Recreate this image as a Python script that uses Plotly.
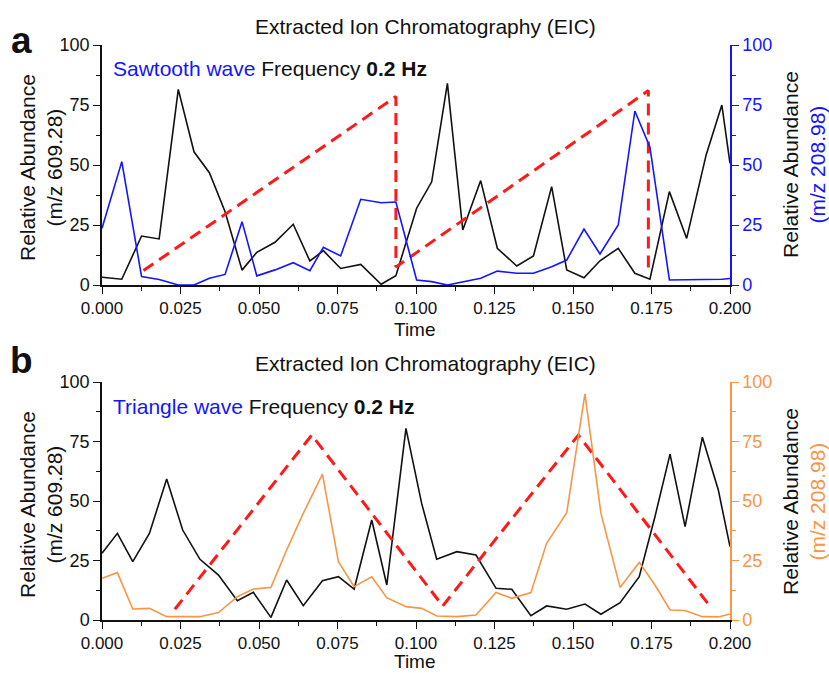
import plotly.graph_objects as go

# ---------------- data ----------------
time_a = [0, 0.0063, 0.0126, 0.0182, 0.0243, 0.0293, 0.0342, 0.0392, 0.0446, 0.0493,
          0.0551, 0.0609, 0.0662, 0.0705, 0.0760, 0.0824, 0.0889, 0.0936, 0.1002, 0.1050,
          0.1100, 0.1149, 0.1206, 0.1259, 0.1321, 0.1374, 0.1432, 0.1480, 0.1535, 0.1586,
          0.1644, 0.1697, 0.1745, 0.1807, 0.1862, 0.1924, 0.1974, 0.2000]
mz609_a = [3.2, 2.4, 20.4, 19.2, 81.5, 55.5, 46.8, 30.5, 6.2, 13.6,
           17.8, 25.3, 10.0, 14.3, 6.9, 8.6, 0.3, 3.9, 32.0, 43.0,
           84.0, 22.9, 43.5, 15.3, 7.9, 12.1, 41.0, 6.3, 3.0, 10.1,
           15.3, 4.9, 2.4, 38.9, 19.4, 54.2, 75.0, 50.7]
mz209_a = [23.6, 51.4, 3.5, 2.3, 0.0, 0.0, 2.8, 4.4, 26.4, 3.8,
           6.3, 9.3, 6.0, 15.7, 12.1, 35.7, 34.3, 34.6, 2.1, 1.4,
           0.0, 1.4, 2.8, 5.8, 4.9, 4.9, 7.6, 10.4, 23.3, 12.9,
           25.0, 72.5, 57.4, 2.1, 2.1, 2.4, 2.4, 2.7]
saw_t = [0.0132, 0.0936, 0.0936, 0.1740, 0.1740]
saw_v = [6.0, 78.5, 7.5, 81.0, 6.0]

time_b = [0, 0.0049, 0.0098, 0.0151, 0.0206, 0.0257, 0.0312, 0.0371, 0.0431, 0.0482,
          0.0538, 0.0588, 0.0641, 0.0702, 0.0753, 0.0803, 0.0859, 0.0907, 0.0968, 0.1018,
          0.1066, 0.1130, 0.1191, 0.1255, 0.1305, 0.1366, 0.1416, 0.1480, 0.1538, 0.1589,
          0.1650, 0.1711, 0.1761, 0.1809, 0.1857, 0.1912, 0.1963, 0.2000]
mz609_b = [28.0, 36.4, 24.5, 36.4, 59.2, 37.8, 25.5, 18.9, 8.1, 11.6,
           1.1, 16.8, 6.0, 16.5, 18.2, 13.0, 42.0, 14.7, 80.5, 49.0,
           25.5, 28.7, 27.3, 13.3, 12.9, 1.8, 5.9, 4.5, 6.7, 2.4,
           7.3, 18.2, 43.4, 69.7, 39.2, 76.8, 54.5, 30.8]
mz209_b = [17.5, 19.9, 4.6, 4.9, 1.4, 1.5, 1.4, 3.1, 9.8, 13.0,
           13.7, 29.4, 44.8, 61.3, 24.5, 14.0, 18.2, 9.4, 5.6, 4.9,
           1.7, 1.4, 2.1, 11.6, 9.1, 11.5, 32.2, 45.1, 95.0, 44.8,
           13.7, 24.2, 14.7, 4.2, 4.0, 1.4, 1.3, 2.5]
tri_t = [0.0232, 0.0668, 0.1085, 0.1517, 0.1931]
tri_v = [4.5, 77.7, 5.9, 77.7, 6.7]

x_ticks = [0, 0.025, 0.05, 0.075, 0.1, 0.125, 0.15, 0.175, 0.2]
y_ticks = [0, 25, 50, 75, 100]

# ---------------- style ----------------
W, H = 829, 673
FONT = "Liberation Sans, Arial, sans-serif"
BLUE = "#1414ff"
ORANGE = "#f79646"
RED = "#ff1a1a"
BLACK = "#111111"

def px_x(p):
    return p / W

def px_y(p):
    return 1 - p / H

XDOM = [px_x(102), px_x(730)]
YDOM_A = [px_y(285), px_y(45)]
YDOM_B = [px_y(620), px_y(382)]

fig = go.Figure()

# panel a
fig.add_trace(go.Scatter(x=time_a, y=mz609_a, mode="lines", line=dict(color=BLACK, width=1.6),
                         xaxis="x", yaxis="y", showlegend=False))
fig.add_trace(go.Scatter(x=time_a, y=mz209_a, mode="lines", line=dict(color=BLUE, width=1.6),
                         xaxis="x", yaxis="y2", showlegend=False))
fig.add_trace(go.Scatter(x=saw_t, y=saw_v, mode="lines", line=dict(color=RED, width=3, dash="12px,7px"),
                         xaxis="x", yaxis="y", showlegend=False))
# panel b
fig.add_trace(go.Scatter(x=time_b, y=mz609_b, mode="lines", line=dict(color=BLACK, width=1.6),
                         xaxis="x2", yaxis="y3", showlegend=False))
fig.add_trace(go.Scatter(x=time_b, y=mz209_b, mode="lines", line=dict(color=ORANGE, width=1.6),
                         xaxis="x2", yaxis="y4", showlegend=False))
fig.add_trace(go.Scatter(x=tri_t, y=tri_v, mode="lines", line=dict(color=RED, width=3, dash="12px,7px"),
                         xaxis="x2", yaxis="y3", showlegend=False))

tickfont = dict(family=FONT, size=17, color=BLACK)
MINOR_X = [0.0125 + 0.025 * i for i in range(8)]

def xax(anchor, **kw):
    d = dict(domain=XDOM, anchor=anchor, range=[0, 0.2], tickvals=x_ticks, tickformat=".3f",
             ticks="outside", ticklen=7, tickwidth=1.3, tickcolor=BLACK,
             minor=dict(tickvals=MINOR_X, ticks="outside", ticklen=4, tickwidth=1.3, tickcolor=BLACK),
             showline=True, linecolor=BLACK, linewidth=1.5, showgrid=False, zeroline=False,
             tickfont=tickfont, fixedrange=True, automargin=False)
    d.update(kw)
    return d

def topax(overlay, anchor):
    return dict(overlaying=overlay, anchor=anchor, side="top", range=[0, 0.2], tickvals=x_ticks,
                showticklabels=False, ticks="inside", ticklen=7, tickwidth=1.3, tickcolor=BLACK,
                minor=dict(tickvals=MINOR_X, ticks="inside", ticklen=4, tickwidth=1.3, tickcolor=BLACK),
                showline=True, linecolor=BLACK, linewidth=1.5, showgrid=False, zeroline=False,
                fixedrange=True, automargin=False)

def yax(domain, anchor, color=BLACK, side="left", overlay=None):
    d = dict(anchor=anchor, range=[0, 100], tickvals=y_ticks, side=side,
             ticks="outside", ticklen=7, tickwidth=1.3, tickcolor=color,
             minor=dict(tickvals=[12.5, 37.5, 62.5, 87.5], ticks="outside", ticklen=4,
                        tickwidth=1.3, tickcolor=color),
             showline=True, linecolor=color, linewidth=1.5, showgrid=False, zeroline=False,
             tickfont=dict(family=FONT, size=18, color=color), fixedrange=True, automargin=False)
    if overlay:
        d["overlaying"] = overlay
    else:
        d["domain"] = domain
    return d

fig.update_layout(
    width=W, height=H,
    margin=dict(l=0, r=0, t=0, b=0, autoexpand=False),
    paper_bgcolor="white", plot_bgcolor="white",
    font=dict(family=FONT, color=BLACK),
    xaxis=xax("y"),
    xaxis2=xax("y3"),
    xaxis3=topax("x", "y"),
    xaxis4=topax("x2", "y3"),
    yaxis=yax(YDOM_A, "x"),
    yaxis2=yax(None, "x", color=BLUE, side="right", overlay="y"),
    yaxis3=yax(YDOM_B, "x2"),
    yaxis4=yax(None, "x2", color=ORANGE, side="right", overlay="y3"),
)

ann = []
TF = 21

def text(x, y, s, size=TF, color=BLACK, angle=0, xanchor="center", pad=1):
    ann.append(dict(x=px_x(x), y=px_y(y), xref="paper", yref="paper", text=s, showarrow=False,
                    font=dict(family=FONT, size=size, color=color), textangle=angle,
                    xanchor=xanchor, yanchor="middle", borderpad=pad))

for (top, title_y, time_y, lab, lab_y, wave, col) in [
        (45, 27, 329, "a", 40, "Sawtooth wave", BLUE),
        (382, 363, 661.5, "b", 360, "Triangle wave", ORANGE)]:
    text(425, title_y, "Extracted Ion Chromatography (EIC)", size=TF)
    text(415, time_y, "Time", size=19, pad=0)
    text(21, lab_y, "<b>%s</b>" % lab, size=37)
    mid = top + 120
    text(41, mid + 3, "Relative Abundance<br>(m/z 609.28)", angle=-90)
    text(804, mid, "Relative Abundance<br><span style='color:%s'>(m/z 208.98)</span>" % col, angle=-90)
    text(111, top + 24, "<span style='color:%s'>%s</span> Frequency <b>0.2 Hz</b>" % (BLUE, wave),
         xanchor="left")

fig.update_layout(annotations=ann)
fig.write_html(
    "out.html",
    config={"displayModeBar": False},
    post_script=("document.documentElement.style.margin='0';document.body.style.margin='0';"
                 "document.body.style.overflow='hidden';document.documentElement.style.overflow='hidden';"),
)
